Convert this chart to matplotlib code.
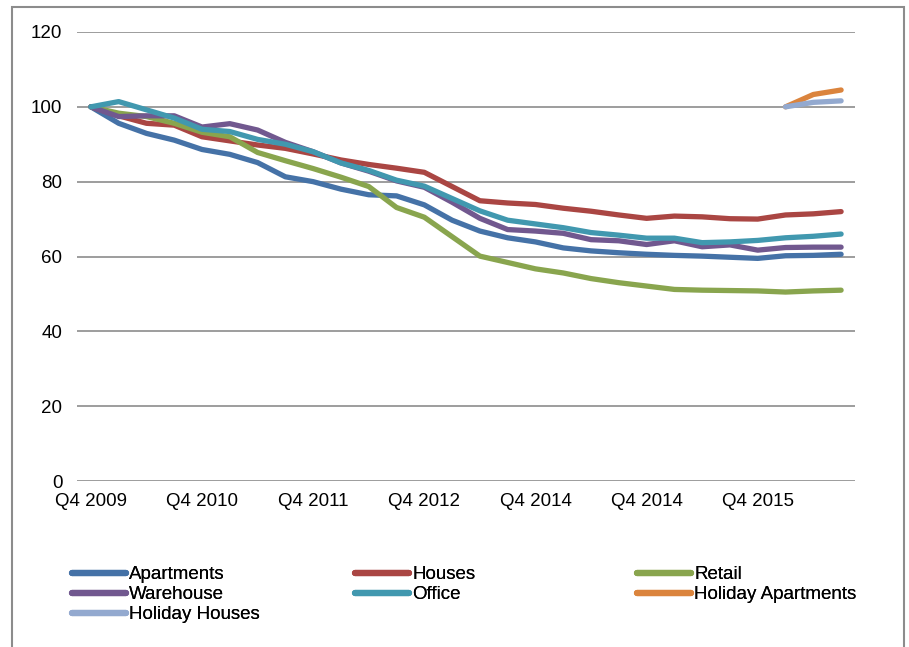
import matplotlib
matplotlib.use("Agg")
import matplotlib.pyplot as plt
from matplotlib.patches import Rectangle
import numpy as np

plt.rcParams['font.family'] = ['Liberation Sans', 'DejaVu Sans']

n_points = 28
tick_labels = ["Q4 2009", "Q4 2010", "Q4 2011", "Q4 2012", "Q4 2014", "Q4 2014", "Q4 2015"]
tick_positions = [0, 4, 8, 12, 16, 20, 24]

apartments = [100, 95.6, 92.9, 91.1, 88.6, 87.3, 85.1, 81.3, 80.0, 78.0, 76.5, 76.2, 73.8, 69.7,
              66.8, 65.0, 63.9, 62.3, 61.5, 61.0, 60.6, 60.3, 60.1, 59.8, 59.5, 60.2, 60.3, 60.6]
houses = [100, 97.6, 95.6, 95.1, 92.0, 90.9, 89.8, 88.9, 87.4, 85.8, 84.6, 83.6, 82.5, 78.7,
          74.9, 74.3, 73.9, 72.9, 72.1, 71.1, 70.2, 70.8, 70.6, 70.1, 70.0, 71.1, 71.4, 72.0]
retail = [100, 98.3, 97.4, 95.6, 93.2, 92.0, 87.8, 85.6, 83.5, 81.2, 78.7, 73.1, 70.5, 65.3,
          60.1, 58.4, 56.7, 55.6, 54.1, 53.0, 52.1, 51.2, 51.0, 50.9, 50.8, 50.5, 50.8, 51.0]
warehouse = [100, 97.4, 97.6, 97.6, 94.6, 95.5, 93.8, 90.5, 88.0, 85.0, 82.8, 80.2, 78.5, 74.5,
             70.2, 67.2, 66.8, 66.2, 64.5, 64.2, 63.2, 64.2, 62.6, 63.1, 61.7, 62.4, 62.5, 62.5]
office = [100, 101.4, 99.2, 97.0, 94.0, 93.4, 91.3, 90.0, 88.0, 85.0, 83.0, 80.4, 78.8, 75.5,
          72.2, 69.7, 68.7, 67.7, 66.4, 65.7, 64.9, 64.9, 63.7, 63.9, 64.3, 65.0, 65.4, 66.0]
holiday_start = 25
holiday_apartments = [100, 103.3, 104.5]
holiday_houses = [100, 101.2, 101.6]

names = ["Apartments", "Houses", "Retail", "Warehouse", "Office", "Holiday Apartments", "Holiday Houses"]
colors = ["#4572A7", "#AA4643", "#89A54E", "#71588F", "#4198AF", "#DB843D", "#93A9CF"]

W, H = 909, 647
FS = 13.5
fig = plt.figure(figsize=(W / 100, H / 100), dpi=100)
ax = fig.add_axes([77 / W, 1 - 481 / H, (855 - 77) / W, (481 - 32) / H])

x_full = np.arange(n_points)
x_hol = np.arange(holiday_start, holiday_start + len(holiday_apartments))
series = [(x_full, apartments), (x_full, houses), (x_full, retail), (x_full, warehouse),
          (x_full, office), (x_hol, holiday_apartments), (x_hol, holiday_houses)]

handles = []
for (xs, ys), name, c in zip(series, names, colors):
    h, = ax.plot(xs, ys, color=c, lw=3.8, solid_capstyle='round', solid_joinstyle='round', label=name)
    handles.append(h)

ax.set_xlim(-0.5, n_points - 0.5)
ax.set_ylim(0, 120)
ax.set_yticks(np.arange(0, 121, 20))
ax.set_xticks(tick_positions)
ax.set_xticklabels(tick_labels)
ax.tick_params(axis='both', length=0, labelsize=FS, colors='black')
ax.tick_params(axis='y', pad=10.5)
ax.tick_params(axis='x', pad=8.8)
for s in ax.spines.values():
    s.set_visible(False)
ax.grid(axis='y', color='#8C8C8C', lw=1.2)
ax.set_axisbelow(True)

# legend: three columns placed like the original
cols = [[0, 3, 6], [1, 4], [2, 5]]
col_x = [72, 355, 637]
for ci, idx in enumerate(cols):
    leg = fig.legend([plt.Line2D([], [], color=colors[i], lw=4.5, solid_capstyle='round') for i in idx],
                     [names[i] for i in idx],
                     loc='upper left', bbox_to_anchor=(col_x[ci] / W, 1 - 566 / H),
                     frameon=False, fontsize=FS, handlelength=2.9, handletextpad=0.15,
                     labelspacing=0.16, borderpad=0, borderaxespad=0)
    fig.add_artist(leg)

# outer frame
fig.add_artist(Rectangle((12 / W, -0.05), (904 - 12) / W, 1.05 - 7 / H, transform=fig.transFigure,
                         fill=False, edgecolor='#8C8C8C', lw=1.5, clip_on=False))

fig.savefig("out.png", dpi=100)
